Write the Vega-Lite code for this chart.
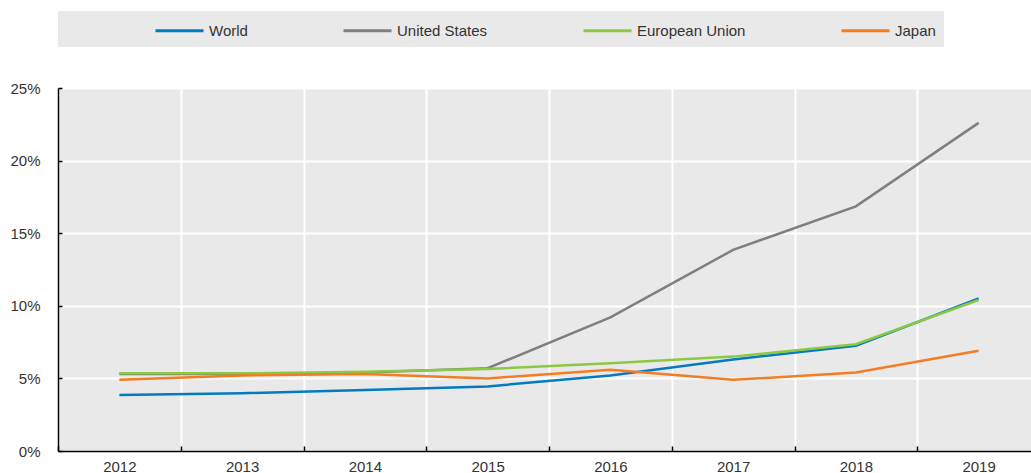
{
  "$schema": "https://vega.github.io/schema/vega-lite/v6.json",
  "autosize": {"type": "none"},
  "width": 982,
  "height": 363,
  "padding": {"left": 58, "top": 88, "right": 0, "bottom": 22},
  "background": "white",
  "config": {
    "view": {"fill": "#e9e9e9", "stroke": null},
    "font": "Liberation Sans"
  },
  "data": {
    "values": [
      {"year": "2012", "series": "World", "value": 3.85},
      {"year": "2013", "series": "World", "value": 3.98},
      {"year": "2014", "series": "World", "value": 4.2},
      {"year": "2015", "series": "World", "value": 4.45},
      {"year": "2016", "series": "World", "value": 5.2},
      {"year": "2017", "series": "World", "value": 6.3},
      {"year": "2018", "series": "World", "value": 7.25},
      {"year": "2019", "series": "World", "value": 10.5},
      {"year": "2012", "series": "United States", "value": 5.3},
      {"year": "2013", "series": "United States", "value": 5.3},
      {"year": "2014", "series": "United States", "value": 5.4},
      {"year": "2015", "series": "United States", "value": 5.7},
      {"year": "2016", "series": "United States", "value": 9.2},
      {"year": "2017", "series": "United States", "value": 13.85},
      {"year": "2018", "series": "United States", "value": 16.85},
      {"year": "2019", "series": "United States", "value": 22.6},
      {"year": "2012", "series": "European Union", "value": 5.35},
      {"year": "2013", "series": "European Union", "value": 5.35},
      {"year": "2014", "series": "European Union", "value": 5.45},
      {"year": "2015", "series": "European Union", "value": 5.65},
      {"year": "2016", "series": "European Union", "value": 6.05},
      {"year": "2017", "series": "European Union", "value": 6.5},
      {"year": "2018", "series": "European Union", "value": 7.35},
      {"year": "2019", "series": "European Union", "value": 10.4},
      {"year": "2012", "series": "Japan", "value": 4.9},
      {"year": "2013", "series": "Japan", "value": 5.2},
      {"year": "2014", "series": "Japan", "value": 5.3},
      {"year": "2015", "series": "Japan", "value": 5.0},
      {"year": "2016", "series": "Japan", "value": 5.6},
      {"year": "2017", "series": "Japan", "value": 4.9},
      {"year": "2018", "series": "Japan", "value": 5.4},
      {"year": "2019", "series": "Japan", "value": 6.9}
    ]
  },
  "mark": {"type": "line", "strokeWidth": 2.5},
  "encoding": {
    "x": {
      "field": "year",
      "type": "ordinal",
      "scale": {"type": "band", "paddingInner": 0, "paddingOuter": 0},
      "axis": {
        "title": null,
        "labelAngle": 0,
        "tickBand": "extent",
        "grid": true,
        "gridColor": "white",
        "gridWidth": 2,
        "domainColor": "black",
        "domainWidth": 1.5,
        "tickColor": "black",
        "tickWidth": 1.5,
        "tickSize": -5,
        "labelPadding": 13,
        "labelFontSize": 15,
        "labelColor": "#333"
      }
    },
    "y": {
      "field": "value",
      "type": "quantitative",
      "scale": {"domain": [0, 25], "nice": false},
      "axis": {
        "title": null,
        "values": [0, 5, 10, 15, 20, 25],
        "labelExpr": "datum.value + '%'",
        "grid": true,
        "gridColor": "white",
        "gridWidth": 2,
        "domainColor": "black",
        "domainWidth": 1.5,
        "tickColor": "black",
        "tickWidth": 1.5,
        "tickSize": -4,
        "labelPadding": 22,
        "labelFontSize": 15,
        "labelColor": "#333"
      }
    },
    "color": {
      "field": "series",
      "type": "nominal",
      "sort": ["World", "United States", "European Union", "Japan"],
      "scale": {
        "domain": ["World", "United States", "European Union", "Japan"],
        "range": ["#037BC1", "#7F7F7F", "#8CC841", "#F47D23"]
      },
      "legend": {
        "title": null,
        "orient": "none",
        "legendX": 0,
        "legendY": -77,
        "direction": "horizontal",
        "columns": 4,
        "fillColor": "#e9e9e9",
        "padding": 8,
        "symbolType": "M-2.4,0L2.4,0",
        "symbolSize": 400,
        "symbolStrokeWidth": 3,
        "symbolOffset": 102,
        "columnPadding": 6,
        "labelOffset": 18,
        "labelFontSize": 15,
        "labelColor": "#333"
      }
    }
  }
}
